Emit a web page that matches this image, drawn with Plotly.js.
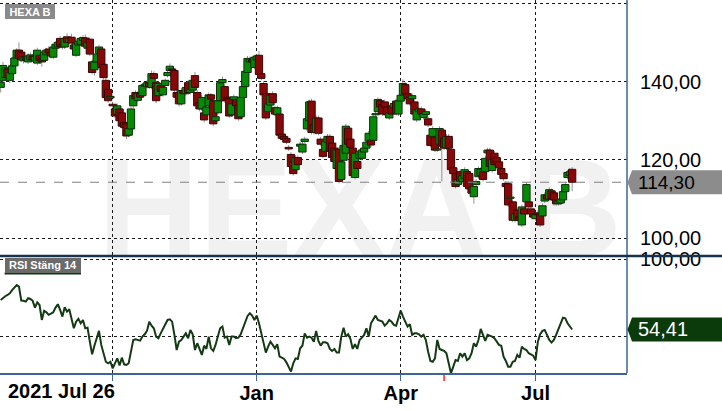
<!DOCTYPE html>
<html><head><meta charset="utf-8">
<script src="https://cdn.plot.ly/plotly-3.0.1.min.js"></script>
<style>html,body{margin:0;padding:0;background:#fff;overflow:hidden}#chart{width:722px;height:410px}</style>
</head><body><div id="chart"></div>
<script>
const ticker = 'HEXA B';
const rsiLabel = 'RSI Stäng 14';
const startLabel = '2021 Jul 26';

const open = [
138.5,140.3,141.0,143.2,140.3,142.0,144.0,146.0,148.0,147.5,
145.3,146.3,145.0,145.5,146.5,145.2,144.7,146.7,145.8,145.4,
146.8,148.3,147.5,146.2,148.5,148.8,151.0,149.5,148.8,151.4,
150.0,151.3,149.3,146.7,149.3,149.5,150.5,151.1,148.5,150.8,
145.0,143.0,145.0,147.2,148.3,144.4,140.3,138.0,135.8,134.2,
133.0,131.7,133.0,132.0,129.5,129.2,126.3,127.9,133.8,137.2,
135.2,137.0,136.4,138.8,138.7,139.8,138.5,142.0,139.7,136.4,
139.0,136.6,139.0,141.5,142.8,143.2,142.8,137.2,137.2,134.3,
137.7,136.9,139.7,137.2,137.8,141.5,137.2,134.6,133.0,132.0,
131.5,133.8,136.6,135.1,130.0,132.0,135.1,139.7,138.7,136.0,
135.6,131.5,135.4,135.1,134.0,131.0,135.9,138.7,142.3,145.0,
145.6,143.6,145.5,146.7,142.0,139.5,136.9,132.3,134.0,136.9,
133.3,131.5,131.7,126.6,126.0,125.5,123.2,121.4,119.6,117.5,
120.6,123.5,122.0,124.7,127.9,130.0,135.0,129.0,127.0,130.7,
125.3,122.7,122.2,124.5,126.0,124.3,123.0,117.8,122.7,115.0,
119.9,121.7,128.1,125.3,123.0,115.5,119.6,120.4,120.4,122.0,
123.0,124.8,125.0,125.0,131.5,132.3,135.1,134.1,134.8,133.5,
130.7,133.8,133.3,135.0,131.7,135.0,136.6,139.2,136.9,136.0,
135.6,134.8,130.2,132.3,133.0,130.8,131.6,130.5,126.3,126.0,
125.8,122.5,124.0,127.6,125.5,123.0,126.0,122.7,118.0,116.5,
113.7,117.0,114.5,115.2,117.0,116.5,113.0,110.6,113.7,115.7,
116.0,117.0,117.0,121.8,122.5,117.3,121.7,120.6,119.5,117.8,
116.5,114.0,113.9,110.2,109.3,104.6,107.2,105.5,103.4,107.5,
109.3,109.3,107.5,106.2,105.0,106.5,106.2,105.7,109.5,111.0,
110.0,112.1,111.6,109.8,108.8,109.0,109.8,111.9,115.5,116.0,
117.6];
const high = [
140.6,145.0,144.0,143.8,142.9,144.5,146.8,148.5,150.0,148.2,
146.9,146.8,147.2,147.4,147.0,146.9,148.6,147.2,146.3,148.2,
148.6,149.0,148.0,149.3,150.2,150.8,151.6,150.0,151.6,152.3,
151.5,152.2,149.8,150.3,150.8,151.5,151.8,152.0,150.5,151.3,
145.6,145.5,147.4,149.3,148.9,145.0,140.9,138.6,136.8,134.8,
133.6,134.4,133.5,132.6,130.2,129.8,128.6,133.6,137.0,137.8,
137.6,137.5,139.6,139.8,140.3,140.4,142.8,142.6,140.2,140.0,
139.5,139.0,140.8,142.9,144.6,144.0,143.3,137.8,137.8,138.3,
138.3,139.1,140.3,138.6,140.9,142.4,137.8,135.2,136.5,132.6,
134.1,137.2,137.1,135.7,131.6,135.7,140.3,141.3,139.3,136.5,
136.2,134.9,136.7,135.6,134.6,136.5,139.3,143.2,146.5,146.4,
146.2,146.8,147.0,147.8,142.6,140.1,137.5,134.9,137.0,137.5,
133.9,133.9,132.3,127.8,126.6,126.0,123.8,122.0,120.2,121.2,
121.2,124.6,124.6,125.9,131.1,135.4,135.6,129.6,131.3,131.3,
125.9,123.3,125.4,126.6,126.6,124.9,123.6,123.1,123.3,120.1,
124.3,129.2,128.7,125.9,123.6,122.3,120.2,122.8,123.1,123.6,
125.1,127.4,125.6,131.6,132.4,136.0,135.7,134.7,135.4,134.0,
132.6,134.4,135.0,135.6,135.7,137.1,140.5,139.8,137.5,136.6,
137.0,135.4,133.4,133.6,133.6,132.4,132.9,131.1,126.9,128.6,
126.4,123.4,128.6,128.2,126.1,126.6,126.6,123.3,118.6,117.1,
115.6,117.6,116.6,118.1,117.6,117.1,113.6,113.8,115.1,118.4,
118.1,117.6,121.0,123.1,123.1,120.7,122.3,121.2,120.1,118.4,
117.1,114.6,114.5,111.1,109.9,106.8,107.8,106.1,108.6,108.1,
114.3,109.9,108.1,106.8,106.6,107.1,106.8,108.9,111.7,111.6,
113.0,112.7,112.2,110.4,110.1,110.6,112.5,114.3,117.4,117.9,
118.2];
const low = [
137.2,139.5,140.2,140.4,139.6,141.4,143.5,145.6,145.5,145.0,
144.6,145.0,144.5,145.0,145.1,144.8,144.2,144.6,143.8,144.9,
146.2,146.9,145.9,145.7,148.0,148.3,148.5,148.2,148.3,149.5,
149.4,149.2,147.8,146.2,148.8,149.0,150.0,148.5,148.0,146.5,
141.8,141.5,144.5,146.8,143.0,140.5,135.4,134.6,135.2,133.2,
130.7,131.2,129.4,128.0,127.8,125.3,125.8,127.4,133.2,135.0,
134.7,135.5,135.9,138.3,138.2,138.1,138.0,140.3,134.5,135.9,
137.0,136.1,138.5,141.0,142.3,142.3,137.3,135.5,133.6,133.8,
136.4,136.4,136.7,136.7,137.3,138.0,133.2,132.4,132.5,129.6,
131.0,133.3,135.0,128.6,129.5,131.5,134.6,139.2,134.6,135.0,
130.6,131.0,134.9,133.3,130.0,130.5,135.4,138.2,141.8,144.5,
144.5,143.1,145.0,141.3,140.3,136.1,130.2,131.8,133.5,134.1,
131.2,131.0,125.8,125.0,124.7,124.0,122.3,117.8,116.0,117.0,
118.3,123.0,121.5,124.2,127.4,129.5,126.5,126.5,126.5,126.3,
123.5,120.4,121.7,124.0,121.7,120.1,119.1,117.3,114.0,114.5,
119.4,121.2,123.5,122.7,115.5,115.0,117.3,119.9,119.9,121.5,
122.5,124.3,123.3,124.5,131.0,131.8,133.0,131.2,133.0,131.0,
130.2,131.2,132.8,131.3,131.2,134.5,136.1,136.4,135.1,133.8,
135.1,131.2,129.7,131.8,131.2,130.3,131.1,128.4,123.2,125.5,
122.0,122.0,123.5,114.5,122.5,122.5,122.5,117.0,116.0,112.7,
113.2,114.0,114.0,114.7,112.7,112.1,111.0,108.8,113.2,115.2,
115.5,114.5,116.5,121.3,117.8,116.8,118.3,118.3,117.5,115.8,
114.7,112.7,108.0,109.7,104.1,104.1,104.4,104.0,102.9,105.7,
108.8,107.5,105.7,104.9,104.5,105.5,102.9,105.2,109.0,109.5,
109.5,109.5,108.3,108.3,108.3,108.5,109.3,111.4,115.0,115.5,
112.0];
const close = [
139.8,144.1,143.5,141.0,142.3,144.0,146.0,148.0,146.0,145.5,
146.3,145.5,146.5,146.8,145.6,146.4,148.0,145.4,145.0,147.5,
148.0,147.3,146.5,148.8,149.5,150.0,149.0,148.8,151.0,150.0,
151.0,149.8,148.3,149.8,150.3,151.0,151.2,149.0,150.0,147.0,
142.3,145.0,147.0,148.8,143.6,141.0,135.9,135.1,136.2,133.8,
131.2,133.8,130.0,128.6,128.3,126.1,128.0,133.0,136.4,135.6,
137.0,136.0,139.0,139.2,139.7,138.6,142.0,140.8,135.1,139.5,
137.5,138.5,140.3,142.3,143.9,142.8,137.8,136.0,134.3,137.7,
136.9,138.5,137.2,138.0,140.3,138.5,133.8,133.0,135.9,130.2,
133.5,136.6,135.5,129.2,131.0,135.1,139.7,140.5,135.1,135.5,
131.2,134.3,136.1,133.8,130.5,136.0,138.7,142.6,145.9,145.8,
145.0,146.2,146.5,141.8,140.8,136.6,130.7,134.3,136.5,134.6,
131.7,133.3,126.3,125.5,125.2,124.5,122.8,118.3,116.5,120.6,
118.8,124.0,124.0,125.3,130.5,134.8,127.0,127.0,130.7,126.8,
124.0,120.9,124.8,126.0,122.2,120.6,119.6,122.5,114.5,119.5,
123.7,128.6,124.0,123.2,116.0,121.7,117.8,122.2,122.5,123.0,
124.5,126.8,123.8,131.0,131.8,135.4,133.5,131.7,133.5,131.5,
132.0,131.7,134.4,131.8,135.1,136.5,139.5,136.9,135.6,134.3,
136.4,131.7,132.8,133.0,131.7,131.8,132.3,128.9,123.7,128.0,
122.5,122.8,128.0,123.5,123.0,126.0,123.0,117.5,116.5,113.2,
115.0,114.5,116.0,117.5,113.2,112.6,111.5,113.2,114.5,117.8,
117.5,115.0,120.4,122.5,118.3,120.1,118.8,118.8,118.0,116.3,
115.2,113.2,108.5,110.5,104.6,106.2,104.9,104.5,108.0,106.2,
113.7,108.0,106.2,105.4,106.0,106.0,103.4,108.3,111.1,110.0,
112.4,110.0,109.8,108.8,109.5,110.0,111.9,113.7,116.8,117.0,
114.3];
const rsi = [
73.6,75.1,76,76.8,77.9,80,81.6,83.3,82.2,73.2,
73,72.5,74.7,74.2,73,68.6,72,70.3,60.6,66.5,
65.6,63.9,64.7,65.6,68.6,70.8,67.1,62.8,68.8,66,
67.5,61.3,55.2,59.5,61.3,58.4,60.6,55.2,55.6,46.5,
38.3,43.9,49.1,53.5,44.4,39,33.5,32.5,33.5,29.2,
33.1,35.7,31,36.1,31.8,31.4,32.5,41.1,47.6,48,
47.6,47.2,49.8,51.3,53.5,59.5,56.9,55.2,49.8,48.7,
51.9,55.2,58.4,60.6,61,59.5,50.9,41.1,46.5,47.6,
49.8,51.9,48.7,54.1,51.3,41.1,45.5,41.1,37.9,43.9,
41.8,49.8,42.2,40.5,44.4,49.8,55.2,56.3,49.1,49.8,
44.4,49.8,49.8,48.7,49.1,51.3,55.2,58.4,63.2,64.9,
63.4,60.6,63.4,58.4,51.9,47.6,39.4,43.3,46.5,44.4,
42.2,44.8,36.8,36.1,35.3,33.1,30.3,27.1,32.5,35.7,
35.3,42.2,43.9,51.9,49.1,49.8,49.1,46.5,53.5,47,
43.9,
46.1,46.1,45.5,41.8,40.5,41.8,39.4,39.4,49.8,55.6,
49.8,51.3,48.3,41.8,44.8,41.8,47.6,49.1,50.9,55.2,
49.8,58.4,60.6,63.4,60.6,60.2,59.5,56.9,58.4,60.6,
59.5,57.4,56.9,61.7,66.7,62.8,59.5,56.3,57.8,50.9,
51.9,51.9,51.3,49.8,50.9,47.6,40,34,33.5,35.7,
47.6,41.8,41.1,40.5,39,32.5,26,30.3,34.6,34,
39,36.8,39,34.6,35.7,39,45.5,43.3,47.6,54.8,
51.3,47,50.9,50.4,49.8,48.7,46.5,44.4,43.9,36.8,
34,30.3,30.3,33.5,34,37.9,36.1,43.3,41.8,41.1,
39,37.9,37.4,34.6,46.5,51.3,53.5,54.1,51.3,47.6,
45.9,47.6,50.9,55.2,58.4,62.1,61.7,58.4,56.5,54.41];

const monthTickIdx = [49, 112, 175, 234];
const monthTickText = ['', 'Jan', 'Apr', 'Jul'];
const priceTicks = [100, 120, 140, 160];
const priceTickText = ['100,00', '120,00', '140,00', ''];
const rsiTicks = [50, 100];
const rsiTickText = ['', '100,00'];
const dividendIdx = 194;

const FONT = 'Liberation Sans, Arial, sans-serif';
const W = 722, H = 410, ML = 0, MR = 95, MT = 0, MB = 37;
const PW = W - ML - MR, PH = H - MT - MB;
const px = v => v / PW;            // pixel x -> paper
const py = v => (PH - v) / PH;     // pixel y -> paper

const idx = open.map((_, i) => i);
const isUp = close.map((c, i) => c >= open[i]);
const bodyBase = open.map((o, i) => Math.min(o, close[i]));
const bodyLen = open.map((o, i) => Math.max(Math.abs(close[i] - o), 0.3));
const wickLen = high.map((h, i) => h - low[i]);
const lastClose = close[close.length - 1];
const lastRsi = rsi[rsi.length - 1];
const fmt = v => v.toFixed(2).replace('.', ',');

const wicks = {
  type: 'bar', x: idx, base: low, y: wickLen, width: 0.4,
  marker: {color: '#8a8a8a', line: {width: 0}},
  xaxis: 'x', yaxis: 'y', hoverinfo: 'skip'
};
const bodies = {
  type: 'bar', x: idx, base: bodyBase, y: bodyLen, width: 3.2,
  marker: {
    color: isUp.map(u => u ? '#068a06' : '#870808'),
    line: {color: isUp.map(u => u ? '#0b2e0b' : '#3a0505'), width: 1}
  },
  xaxis: 'x', yaxis: 'y', hoverinfo: 'skip'
};
const rsiLine = {
  type: 'scatter', mode: 'lines', x: idx, y: rsi,
  line: {color: '#133a13', width: 2},
  xaxis: 'x', yaxis: 'y2', hoverinfo: 'skip'
};

const gridStyle = {showgrid: true, gridcolor: '#1a1a1a', griddash: 'dot', gridwidth: 1, zeroline: false};
const sepPx = 256;

const layout = {
  width: W, height: H,
  margin: {l: ML, r: MR, t: MT, b: MB, pad: 0},
  paper_bgcolor: '#ffffff', plot_bgcolor: 'rgba(0,0,0,0)',
  showlegend: false, barmode: 'overlay', hovermode: false,
  separators: ', ',
  font: {family: FONT, color: '#000'},
  xaxis: Object.assign({}, gridStyle, {
    range: [-0.3, 274], anchor: 'y2',
    tickmode: 'array', tickvals: monthTickIdx, ticktext: monthTickText,
    ticks: 'outside', ticklen: 6, tickwidth: 1, tickcolor: '#3b6596',
    showline: true, linecolor: '#3b6596', linewidth: 1.5,
    ticklabelstandoff: -5,
    tickfont: {family: FONT, size: 20, weight: 'bold', color: '#000'},
    fixedrange: true
  }),
  yaxis: Object.assign({}, gridStyle, {
    domain: [py(sepPx), 1], range: [95.48, 160.8], side: 'right', anchor: 'x',
    tickmode: 'array', tickvals: priceTicks, ticktext: priceTickText,
    ticks: '', showline: false, ticklabelstandoff: 12,
    tickfont: {family: FONT, size: 20, color: '#000'}, fixedrange: true
  }),
  yaxis2: Object.assign({}, gridStyle, {
    domain: [0, py(sepPx)], range: [26.17, 102.1], side: 'right', anchor: 'x',
    tickmode: 'array', tickvals: rsiTicks, ticktext: rsiTickText,
    ticks: '', showline: false, ticklabelstandoff: 12,
    tickfont: {family: FONT, size: 20, color: '#000'}, fixedrange: true
  }),
  shapes: [
    {type: 'rect', xref: 'paper', yref: 'paper', layer: 'below',
     x0: px(360) - 0.45, x1: px(360) + 0.45, y0: py(194) - 0.15, y1: py(194) + 0.15,
     line: {width: 0}, fillcolor: 'rgba(0,0,0,0)',
     label: {text: ticker, textposition: 'middle center',
             font: {family: FONT, size: 140, weight: 'bold', color: '#f1f1f1'}}},
    {type: 'line', xref: 'paper', yref: 'y', x0: 0, x1: 1, y0: lastClose, y1: lastClose,
     line: {color: '#808080', width: 1, dash: 'dash'}},
    {type: 'line', xref: 'paper', yref: 'paper', x0: 1, x1: 1, y0: 0, y1: 1,
     line: {color: '#3b6596', width: 1.5}},
    {type: 'line', xref: 'paper', yref: 'paper', x0: 0, x1: px(W), y0: py(sepPx), y1: py(sepPx),
     line: {color: '#17324d', width: 2.5}},
    {type: 'path', xref: 'paper', yref: 'y', line: {width: 0}, fillcolor: '#8c8c8c',
     path: 'M ' + px(627.5) + ' ' + lastClose +
           ' L ' + px(632) + ' ' + (lastClose + 12 / 3.92) +
           ' L ' + px(W) + ' ' + (lastClose + 12 / 3.92) +
           ' L ' + px(W) + ' ' + (lastClose - 12 / 3.92) +
           ' L ' + px(632) + ' ' + (lastClose - 12 / 3.92) + ' Z'},
    {type: 'path', xref: 'paper', yref: 'y2', line: {width: 0}, fillcolor: '#0b3a0b',
     path: 'M ' + px(627.5) + ' ' + lastRsi +
           ' L ' + px(632) + ' ' + (lastRsi + 12 / 1.54) +
           ' L ' + px(W) + ' ' + (lastRsi + 12 / 1.54) +
           ' L ' + px(W) + ' ' + (lastRsi - 12 / 1.54) +
           ' L ' + px(632) + ' ' + (lastRsi - 12 / 1.54) + ' Z'},
    {type: 'rect', xref: 'paper', yref: 'paper', x0: px(4.6), x1: px(81), y0: py(274.5), y1: py(272.5),
     line: {width: 0}, fillcolor: '#0b3a0b'},
    {type: 'line', xref: 'x', yref: 'paper', x0: dividendIdx, x1: dividendIdx, y0: py(375), y1: py(381),
     line: {color: '#ff4d4d', width: 2}}
  ],
  annotations: [
    {xref: 'paper', yref: 'paper', x: px(5), y: py(4), xanchor: 'left', yanchor: 'top',
     text: ticker, showarrow: false, bgcolor: '#8a8a8a', width: 50, height: 15,
     borderpad: 0, borderwidth: 0, font: {family: FONT, size: 11, weight: 'bold', color: '#fff'}},
    {xref: 'paper', yref: 'paper', x: px(4.6), y: py(258), xanchor: 'left', yanchor: 'top',
     text: rsiLabel, showarrow: false, bgcolor: '#6a6a6a', width: 76, height: 14.5,
     borderpad: 0, borderwidth: 0, font: {family: FONT, size: 11, weight: 'bold', color: '#fff'}},
    {xref: 'paper', yref: 'y', x: px(636), y: lastClose, xanchor: 'left', yanchor: 'middle',
     text: fmt(lastClose), showarrow: false, font: {family: FONT, size: 19, color: '#000'}},
    {xref: 'paper', yref: 'y2', x: px(636), y: lastRsi, xanchor: 'left', yanchor: 'middle',
     text: fmt(lastRsi), showarrow: false, font: {family: FONT, size: 20, color: '#fff'}},
    {xref: 'paper', yref: 'paper', x: px(6), y: py(391.5), xanchor: 'left', yanchor: 'middle',
     text: startLabel, showarrow: false,
     font: {family: FONT, size: 20, weight: 'bold', color: '#000'}}
  ]
};

Plotly.newPlot('chart', [wicks, bodies, rsiLine], layout, {staticPlot: true, displayModeBar: false});
</script></body></html>
